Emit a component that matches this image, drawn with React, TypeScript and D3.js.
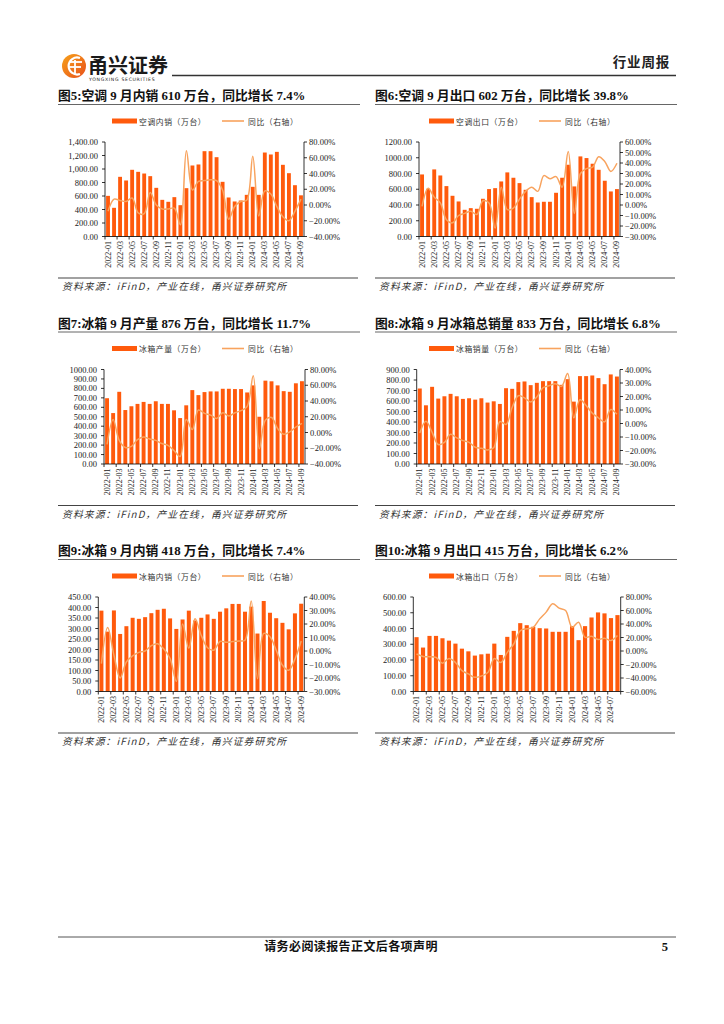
import React from "react";
import * as d3 from "d3";

// ---------- categories ----------
const months33 = [
  "2022-01","2022-02","2022-03","2022-04","2022-05","2022-06","2022-07","2022-08","2022-09","2022-10","2022-11","2022-12",
  "2023-01","2023-02","2023-03","2023-04","2023-05","2023-06","2023-07","2023-08","2023-09","2023-10","2023-11","2023-12",
  "2024-01","2024-02","2024-03","2024-04","2024-05","2024-06","2024-07","2024-08","2024-09",
];
const months32 = months33.slice(0, 32);

// ---------- series ----------
const acDomestic = [602,425,884,830,988,958,933,894,721,543,514,583, 464,716,1052,1067,1264,1264,1175,810,578,519,533,617, 736,617,1244,1215,1254,1062,938,760,610];
const acDomesticYoY = [-8,7.5,5.8,4.5,8.8,-10,-11,16,0,-5,-5,-4, -25,69,19,30,31,32,31,19,-18,-2,4.5,6, 62,-14,18,14,-2,-15,-20,-8,7.4];

const acExport = [788,606,852,775,640,517,445,339,360,352,479,602, 614,699,814,746,678,593,500,432,441,441,555,746, 911,636,1017,996,924,847,708,572,602];
const acExportYoY = [-1.4,16,7.5,2,-14,-17,-10,-8,-6,-9,4,2, -22,17,-4.5,-3,5.6,13,17,13,28,25,27,17, 51,-8,30,34.6,36,46,41.5,32,39.8];

const fridgeProd = [696,539,764,571,611,636,657,636,664,636,636,568, 486,621,782,729,761,768,768,796,796,793,793,757, 832,500,882,875,832,771,764,854,876];
const fridgeProdYoY = [-15,16.6,-10,-19,-17.7,-9,-5.7,-8.3,-10,-14,-16.4,-23, -30.5,16.6,3.7,28.6,24.3,22,17.9,25,21,25,27.7,33, 72,-20.7,15.7,19,5,-2.3,0.7,7,11.7];

const fridgeSales = [719,559,735,623,645,668,645,620,626,613,626,585, 597,572,722,716,780,786,751,773,789,789,789,754, 808,594,837,837,843,818,760,853,833];
const fridgeSalesYoY = [-7,1.7,-6.5,-15.6,-14,-8,-10.7,-12.7,-14,-17.6,-18.4,-19.6, -18,1.5,-0.7,12,20.6,19,16,19.6,26.5,28,29.5,27.5, 37,4.2,17.6,13.4,7.7,4.2,1.2,10.4,6.8];

const fridgeDomestic = [385,285,386,274,311,351,346,354,373,389,394,348, 298,343,385,338,351,367,346,380,396,417,417,380, 404,276,431,375,349,327,296,372,418];
const fridgeDomesticYoY = [-9.3,17.4,-3,-20,-8,-3.6,-1,0,4,5.4,1.4,-5.6, -22.5,20,2,23.8,11.4,2.4,0.6,7,6.4,7,7.4,8, 37,-20.5,13,10.6,0.6,-10.6,-14.3,-6,7.4];

const fridgeExport = [345,279,353,353,338,323,304,272,255,228,236,240, 304,232,347,385,434,421,411,402,400,379,379,379, 415,326,415,470,502,496,466,485];
const fridgeExportYoY = [-4.5,-8,-8.4,-9.4,-18,-11,-17,-29,-34,-39,-37,-32, -11,-17,-2,10.4,30,33,35,47.6,57.6,70,63.5,60, 35,42.7,20.3,21.8,17,19,15.4,22.8];

// ---------- tick values ----------
const ticks1400 = [0,200,400,600,800,1000,1200,1400];
const ticks1200 = [0,200,400,600,800,1000,1200];
const ticks1000 = [0,100,200,300,400,500,600,700,800,900,1000];
const ticks900 = [0,100,200,300,400,500,600,700,800,900];
const ticks450 = [0,50,100,150,200,250,300,350,400,450];
const ticks600 = [0,100,200,300,400,500,600];
const pctM40to80 = [-40,-20,0,20,40,60,80];
const pctM30to60 = [-30,-20,-10,0,10,20,30,40,50,60];
const pctM30to40 = [-30,-20,-10,0,10,20,30,40];
const pctM60to80 = [-60,-40,-20,0,20,40,60,80];

// ---------- texts ----------
const titles = [
  "图5:空调 9 月内销 610 万台，同比增长 7.4%",
  "图6:空调 9 月出口 602 万台，同比增长 39.8%",
  "图7:冰箱 9 月产量 876 万台，同比增长 11.7%",
  "图8:冰箱 9 月冰箱总销量 833 万台，同比增长 6.8%",
  "图9:冰箱 9 月内销 418 万台，同比增长 7.4%",
  "图10:冰箱 9 月出口 415 万台，同比增长 6.2%",
];
const barNames = ["空调内销（万台）","空调出口（万台）","冰箱产量（万台）","冰箱销量（万台）","冰箱内销（万台）","冰箱出口（万台）"];
const lineName = "同比（右轴）";
const sourceText = "资料来源：iFinD，产业在线，甬兴证券研究所";

const BAR = "#FF5A0C";
const LINE = "#F8A35E";
const SERIF = "'Liberation Serif', 'Times New Roman', 'Noto Sans CJK SC', serif";
const CJK = "'Noto Sans CJK SC', sans-serif";

const PANEL_LEFT = [58, 375];
const ROW_OFF = [0, 227.5, 455];

type Cfg = {
  title: string; barName: string; cats: string[]; bars: number[]; yoy: number[];
  leftTicks: number[]; comma: boolean; rightTicks: number[];
  col: number; row: number; axisL: number; axisR: number;
};

const configs: Cfg[] = [
  { title: titles[0], barName: barNames[0], cats: months33, bars: acDomestic, yoy: acDomesticYoY, leftTicks: ticks1400, comma: true, rightTicks: pctM40to80, col: 0, row: 0, axisL: 105, axisR: 304 },
  { title: titles[1], barName: barNames[1], cats: months33, bars: acExport, yoy: acExportYoY, leftTicks: ticks1200, comma: false, rightTicks: pctM30to60, col: 1, row: 0, axisL: 419, axisR: 620 },
  { title: titles[2], barName: barNames[2], cats: months33, bars: fridgeProd, yoy: fridgeProdYoY, leftTicks: ticks1000, comma: false, rightTicks: pctM40to80, col: 0, row: 1, axisL: 104, axisR: 305 },
  { title: titles[3], barName: barNames[3], cats: months33, bars: fridgeSales, yoy: fridgeSalesYoY, leftTicks: ticks900, comma: false, rightTicks: pctM30to40, col: 1, row: 1, axisL: 416.7, axisR: 620 },
  { title: titles[4], barName: barNames[4], cats: months33, bars: fridgeDomestic, yoy: fridgeDomesticYoY, leftTicks: ticks450, comma: false, rightTicks: pctM30to40, col: 0, row: 2, axisL: 98.3, axisR: 304.3 },
  { title: titles[5], barName: barNames[5], cats: months32, bars: fridgeExport, yoy: fridgeExportYoY, leftTicks: ticks600, comma: false, rightTicks: pctM60to80, col: 1, row: 2, axisL: 413.3, axisR: 620.7 },
];

function Panel({ c }: { c: Cfg }) {
  const px = PANEL_LEFT[c.col];
  const off = ROW_OFF[c.row];
  const top = 142 + off;
  const bottom = 236.5 + off;
  const x = d3.scaleBand<string>().domain(c.cats).range([c.axisL, c.axisR]).paddingInner(0.36).paddingOuter(0.18);
  const yL = d3.scaleLinear().domain([0, d3.max(c.leftTicks)!]).range([bottom, top]);
  const yR = d3.scaleLinear().domain(d3.extent(c.rightTicks) as [number, number]).range([bottom, top]);
  const cx = (i: number) => (x(c.cats[i]) as number) + x.bandwidth() / 2;
  const line = d3.line<number>().x((_, i) => cx(i)).y((d) => yR(d)).curve(d3.curveCatmullRom.alpha(0.5));
  const fmtL = d3.format(c.comma ? ",.2f" : ".2f");
  const fmtR = (v: number) => d3.format(".2f")(v) + "%";
  const step = x.step();
  const tickXs: number[] = [];
  for (let i = 0; i <= c.cats.length; i += 2) {
    tickXs.push(i < c.cats.length ? (x(c.cats[i]) as number) - (step - x.bandwidth()) / 2 : c.axisR);
  }
  return (
    <g>
      {/* title */}
      <text x={px} y={100 + off} fontFamily={SERIF} fontWeight="bold" fontSize={12.8} fill="#111">{c.title}</text>
      <line x1={px} x2={px + 302} y1={104.5 + off} y2={104.5 + off} stroke="#666" strokeWidth={1} />
      {/* legend */}
      <rect x={px + 54} y={118.5 + off} width={25} height={5} fill={BAR} />
      <text x={px + 81} y={121 + off} dominantBaseline="central" fontFamily={CJK} fontSize={7.8} letterSpacing={0.6} fill="#333">{c.barName}</text>
      <line x1={px + 164} x2={px + 186} y1={121 + off} y2={121 + off} stroke={LINE} strokeWidth={1.6} />
      <text x={px + 190} y={121 + off} dominantBaseline="central" fontFamily={CJK} fontSize={7.8} letterSpacing={0.6} fill="#333">{lineName}</text>
      {/* bars */}
      {c.bars.map((v, i) => (
        <rect key={i} x={x(c.cats[i])} y={yL(v)} width={x.bandwidth()} height={bottom - yL(v)} fill={BAR} />
      ))}
      {/* line */}
      <path d={line(c.yoy) || ""} fill="none" stroke={LINE} strokeWidth={1.5} />
      {/* left axis */}
      <line x1={c.axisL} x2={c.axisL} y1={top} y2={bottom} stroke="#000" strokeWidth={0.8} />
      {c.leftTicks.map((t) => (
        <g key={"l" + t}>
          <line x1={c.axisL - 3} x2={c.axisL} y1={yL(t)} y2={yL(t)} stroke="#000" strokeWidth={0.8} />
          <text x={c.axisL - 7} y={yL(t)} textAnchor="end" dominantBaseline="central" fontFamily={SERIF} fontSize={8.5} fill="#222">{fmtL(t)}</text>
        </g>
      ))}
      {/* right axis */}
      <line x1={c.axisR} x2={c.axisR} y1={top} y2={bottom} stroke="#000" strokeWidth={0.8} />
      {c.rightTicks.map((t) => (
        <g key={"r" + t}>
          <line x1={c.axisR} x2={c.axisR + 3} y1={yR(t)} y2={yR(t)} stroke="#000" strokeWidth={0.8} />
          <text x={c.axisR + 5} y={yR(t)} textAnchor="start" dominantBaseline="central" fontFamily={SERIF} fontSize={8.5} fill="#222">{fmtR(t)}</text>
        </g>
      ))}
      {/* x axis */}
      <line x1={c.axisL} x2={c.axisR} y1={bottom} y2={bottom} stroke="#000" strokeWidth={0.8} />
      {tickXs.map((tx, i) => (
        <line key={"t" + i} x1={tx} x2={tx} y1={bottom} y2={bottom + 3} stroke="#000" strokeWidth={0.8} />
      ))}
      {c.cats.map((m, i) => i % 2 === 0 ? (
        <text key={m} transform={`translate(${cx(i)},${bottom + 4.5}) rotate(-90)`} textAnchor="end" dominantBaseline="central" fontFamily={SERIF} fontSize={8} fill="#222">{m}</text>
      ) : null)}
      {/* bottom rule + source */}
      <line x1={px} x2={px + 300} y1={278 + off} y2={278 + off} stroke="#444" strokeWidth={1.2} />
      <text x={px + 4} y={290 + off} fontFamily={CJK} fontStyle="italic" fontSize={9.8} letterSpacing={1.1} fill="#333">{sourceText}</text>
    </g>
  );
}

function Header() {
  return (
    <g>
      <defs>
        <linearGradient id="lg" x1="0" y1="0" x2="1" y2="1">
          <stop offset="0" stopColor="#F7A21B" />
          <stop offset="1" stopColor="#E8501A" />
        </linearGradient>
      </defs>
      <circle cx={74} cy={66} r={12} fill="url(#lg)" />
      <path d="M80 58 A8.5 8.5 0 1 0 80 74" fill="none" stroke="#fff" strokeWidth={2.2} />
      <line x1={70} x2={82} y1={62} y2={62} stroke="#fff" strokeWidth={1.8} />
      <line x1={68} x2={81} y1={67} y2={67} stroke="#fff" strokeWidth={1.8} />
      <line x1={75} x2={75} y1={60} y2={74} stroke="#fff" strokeWidth={1.8} />
      <text x={88} y={73} fontFamily={CJK} fontWeight="bold" fontSize={20} fill="#1a1a1a">甬兴证券</text>
      <text x={89} y={81} fontFamily="'DejaVu Sans', sans-serif" fontSize={4.6} letterSpacing={0.7} fill="#222">YONGXING SECURITIES</text>
      <line x1={172} x2={676} y1={75.5} y2={75.5} stroke="#333" strokeWidth={1.5} />
      <text x={670} y={67} textAnchor="end" fontFamily={CJK} fontWeight="bold" fontSize={13.5} letterSpacing={0.8} fill="#222">行业周报</text>
    </g>
  );
}

function Footer() {
  return (
    <g>
      <line x1={58} x2={676} y1={937} y2={937} stroke="#555" strokeWidth={1} />
      <text x={351} y={951} textAnchor="middle" fontFamily={CJK} fontWeight="bold" fontSize={12} letterSpacing={0.4} fill="#111">请务必阅读报告正文后各项声明</text>
      <text x={668} y={951} textAnchor="end" fontFamily={SERIF} fontWeight="bold" fontSize={12.5} fill="#111">5</text>
    </g>
  );
}

export default function App() {
  return (
    <svg width={724} height={1024} viewBox="0 0 724 1024" style={{ position: "absolute", left: 0, top: 0, background: "#fff" }}>
      <rect width={724} height={1024} fill="#fff" />
      <Header />
      {configs.map((c, i) => <Panel key={i} c={c} />)}
      <Footer />
    </svg>
  );
}
